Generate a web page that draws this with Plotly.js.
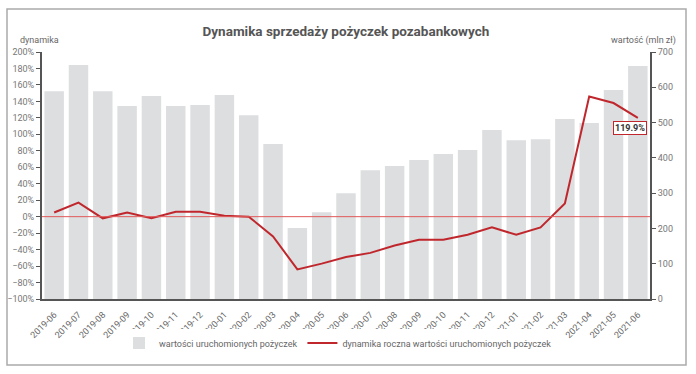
<!DOCTYPE html>
<html>
<head>
<meta charset="utf-8">
<script src="https://cdn.plot.ly/plotly-3.0.1.min.js"></script>
<style>html,body{margin:0;padding:0;background:#fff;}#chart{width:696px;height:374px;}</style>
</head>
<body>
<div id="chart"></div>
<script>
const months = ["2019-06","2019-07","2019-08","2019-09","2019-10","2019-11","2019-12","2020-01","2020-02","2020-03","2020-04","2020-05","2020-06","2020-07","2020-08","2020-09","2020-10","2020-11","2020-12","2021-01","2021-02","2021-03","2021-04","2021-05","2021-06"];
const loanValues = [589,663,589,547,575,547,550,578,521,439,201,246,300,365,377,394,411,422,479,450,453,510,499,592,660];
const yearlyGrowth = [5,17,-2,5,-2,6,6,1,0,-24,-64,-57,-49,-44,-35,-28,-28,-22,-13,-22,-13,16,146,138,119.9];
const lastLabel = "119.9%";

const fontFam = "Roboto, 'Open Sans', sans-serif";
const L = 42, R = 46, T = 52, B = 75;
const W = 696 - L - R, H = 374 - T - B;
const px = v => (v - L) / W;
const py = v => (374 - B - v) / H;

const traces = [
  {type:'bar', x: months, y: loanValues, yaxis:'y', name:'wartości uruchomionych pożyczek',
   marker:{color:'#dcdedf'}, hoverinfo:'x+y'},
  {type:'scatter', mode:'lines', x: months, y: yearlyGrowth, yaxis:'y2',
   name:'dynamika roczna wartości uruchomionych pożyczek',
   line:{color:'#c0272d', width:2}}
];

const layout = {
  width:696, height:374,
  margin:{l:L, r:R, t:T, b:B},
  paper_bgcolor:'#fff', plot_bgcolor:'#fff',
  font:{family:fontFam, color:'#666', size:9},
  showlegend:true,
  bargap:0.2,
  title:{text:'<b>Dynamika sprzedaży pożyczek pozabankowych</b>', x:0.497, xanchor:'center', y:1-31/374, yanchor:'middle',
         font:{family:fontFam, size:13.5, color:'#555'}},
  legend:{orientation:'h', x:px(338), xanchor:'center', y:py(343), yanchor:'middle',
          font:{size:9, color:'#666'}, itemwidth:30, traceorder:'normal'},
  xaxis:{type:'category', tickangle:-45, showgrid:false, showline:true, linecolor:'#555', linewidth:2,
         ticks:'outside', ticklen:5, tickcolor:'rgba(0,0,0,0)', tickfont:{size:9, color:'#666'}, zeroline:false},
  yaxis:{side:'right', range:[0,700], dtick:100, showgrid:false, zeroline:false, showline:true,
         linecolor:'#555', linewidth:2, ticks:'outside', ticklen:4, tickcolor:'#555',
         tickfont:{size:9, color:'#777'}},
  yaxis2:{side:'left', overlaying:'y', range:[-100,200], dtick:20, ticksuffix:'%', showgrid:false,
          zeroline:false, showline:true, linecolor:'#555', linewidth:2, ticks:'outside', ticklen:4,
          tickcolor:'#555', tickfont:{size:9, color:'#777'}},
  shapes:[
    {type:'line', xref:'paper', yref:'y2', x0:0, x1:1, y0:0, y1:0, line:{color:'#e05a5a', width:1}},
    {type:'rect', xref:'paper', yref:'paper', x0:px(7), x1:px(686), y0:py(365), y1:py(9),
     line:{color:'#aaa', width:1.5}, fillcolor:'rgba(0,0,0,0)', layer:'below'}
  ],
  annotations:[
    {xref:'paper', yref:'paper', x:px(39), y:py(40), text:'dynamika', showarrow:false,
     xanchor:'center', yanchor:'middle', font:{size:9, color:'#666'}},
    {xref:'paper', yref:'paper', x:px(678), y:py(40), text:'wartość (mln zł)', showarrow:false,
     xanchor:'right', yanchor:'middle', font:{size:9, color:'#666'}},
    {xref:'x', yref:'y2', x: months[months.length-1], y: yearlyGrowth[yearlyGrowth.length-1],
     text:'<b>'+lastLabel+'</b>', showarrow:false, xshift:-8, yshift:-10,
     bgcolor:'#fff', bordercolor:'#c0272d', borderwidth:1, borderpad:1,
     font:{size:9, color:'#333'}}
  ]
};

Plotly.newPlot('chart', traces, layout, {displayModeBar:false, staticPlot:true});
</script>
</body>
</html>
